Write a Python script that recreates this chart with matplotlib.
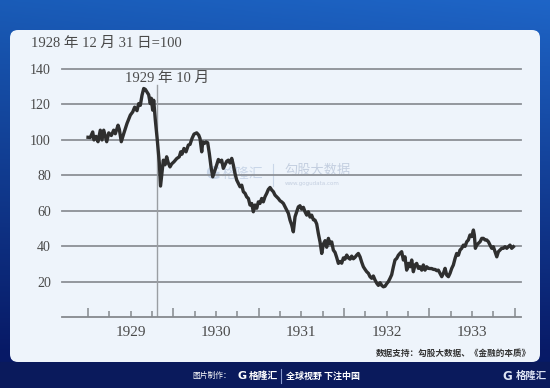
import numpy as np
import matplotlib
matplotlib.use("Agg")
import matplotlib.pyplot as plt
from matplotlib.patches import FancyBboxPatch, Rectangle

plt.rcParams['font.family'] = ['Liberation Serif', 'Noto Sans CJK SC']

# index (1928-12-31 = 100), time as years after 1929-01-01
t_off = [0.000, 0.027, 0.055, 0.070, 0.094, 0.117, 0.144, 0.164, 0.184, 0.203,
         0.219, 0.243, 0.273, 0.301, 0.320, 0.352, 0.367, 0.390, 0.419, 0.457,
         0.496, 0.524, 0.547, 0.574, 0.594, 0.613, 0.633, 0.653, 0.672, 0.692,
         0.711, 0.730, 0.742, 0.758, 0.770, 0.789, 0.812, 0.836, 0.850, 0.868,
         0.883, 0.903, 0.922, 0.941, 0.961, 0.981, 1.008, 1.040, 1.070, 1.087,
         1.102, 1.125, 1.149, 1.176, 1.196, 1.219, 1.243, 1.274, 1.298, 1.313,
         1.333, 1.345, 1.364, 1.383, 1.403, 1.422, 1.442, 1.462, 1.489, 1.509,
         1.528, 1.548, 1.567, 1.586, 1.606, 1.626, 1.645, 1.665, 1.685, 1.704,
         1.723, 1.743, 1.762, 1.782, 1.802, 1.821, 1.841, 1.860, 1.880, 1.899,
         1.919, 1.938, 1.958, 1.978, 1.997, 2.016, 2.036, 2.055, 2.075, 2.095,
         2.114, 2.134, 2.153, 2.173, 2.192, 2.212, 2.231, 2.251, 2.270, 2.290,
         2.310, 2.329, 2.349, 2.368, 2.388, 2.407, 2.427, 2.447, 2.466, 2.485,
         2.505, 2.525, 2.544, 2.564, 2.583, 2.603, 2.622, 2.642, 2.661, 2.681,
         2.700, 2.720, 2.740, 2.759, 2.779, 2.798, 2.818, 2.837, 2.857, 2.876,
         2.896, 2.915, 2.935, 2.954, 2.974, 2.994, 3.013, 3.033, 3.052, 3.072,
         3.091, 3.111, 3.130, 3.150, 3.169, 3.189, 3.209, 3.228, 3.248, 3.267,
         3.287, 3.306, 3.326, 3.345, 3.365, 3.385, 3.404, 3.424, 3.443, 3.463,
         3.482, 3.502, 3.521, 3.541, 3.560, 3.580, 3.599, 3.619, 3.638, 3.658,
         3.677, 3.697, 3.716, 3.736, 3.756, 3.775, 3.795, 3.814, 3.834, 3.853,
         3.873, 3.892, 3.912, 3.931, 3.951, 3.970, 3.990, 4.009, 4.029, 4.049,
         4.068, 4.088, 4.107, 4.127, 4.147, 4.166, 4.186, 4.205, 4.225, 4.244,
         4.264, 4.283, 4.303, 4.322, 4.342, 4.361, 4.381, 4.400, 4.420, 4.440,
         4.459, 4.478, 4.498, 4.518, 4.529, 4.541, 4.557, 4.576, 4.596, 4.616,
         4.635, 4.655, 4.674, 4.694, 4.713, 4.733, 4.752, 4.772, 4.792, 4.811,
         4.830, 4.850, 4.869, 4.889, 4.909, 4.928, 4.947, 4.967, 4.987]
vals = [101.5, 101.4, 104.5, 100.0, 102.0, 99.0, 105.5, 100.0, 105.5, 102.0,
        99.0, 104.0, 102.5, 105.5, 103.5, 108.3, 106.0, 99.0, 103.6, 109.3,
        114.0, 115.8, 118.5, 116.5, 120.5, 119.5, 125.2, 129.0, 128.5, 127.0,
        125.5, 120.5, 123.5, 116.8, 122.4, 111.2, 100.0, 87.0, 74.0, 82.0,
        88.6, 86.0, 90.5, 87.0, 84.8, 86.5, 87.7, 89.5, 90.5, 93.3,
        92.0, 95.2, 93.3, 97.1, 97.5, 100.8, 103.3, 104.0, 102.7, 100.8,
        93.3, 98.9, 98.0, 98.9, 98.4, 92.4, 84.8, 79.2, 83.0, 86.0,
        89.0, 87.7, 88.6, 84.0, 86.0, 88.0, 88.6, 87.0, 89.6, 85.8,
        81.1, 77.4, 75.5, 73.6, 74.5, 70.8, 69.9, 67.9, 67.0, 63.3,
        64.2, 59.5, 63.3, 61.5, 65.1, 64.2, 67.0, 65.1, 68.0, 69.9,
        72.1, 73.2, 71.8, 70.8, 68.9, 67.9, 67.0, 65.7, 65.1, 64.2,
        62.3, 60.5, 58.6, 54.8, 52.0, 48.2, 56.7, 59.5, 62.3, 62.9,
        61.0, 62.0, 59.5, 57.6, 59.5, 56.5, 57.6, 55.0, 54.8, 52.6,
        47.3, 42.5, 36.0, 41.3, 43.2, 39.5, 44.5, 41.5, 42.5, 37.9,
        36.6, 33.8, 30.4, 31.5, 30.5, 33.5, 32.8, 35.1, 33.5, 32.8,
        34.5, 33.0, 33.8, 35.1, 36.0, 34.1, 31.0, 28.5, 27.0, 25.7,
        24.8, 22.9, 22.0, 23.3, 21.0, 19.2, 18.0, 19.5, 18.0, 17.2,
        17.5, 19.0, 20.1, 22.0, 24.0, 28.5, 32.3, 33.2, 35.0, 36.1,
        37.0, 32.3, 34.1, 26.6, 30.4, 28.5, 32.3, 25.7, 29.5, 30.4,
        27.6, 28.5, 26.6, 29.5, 26.6, 28.5, 27.6, 27.5, 27.5, 27.0,
        27.0, 26.3, 26.6, 24.8, 22.9, 24.8, 27.6, 23.8, 22.9, 24.8,
        27.6, 29.5, 33.2, 36.0, 35.0, 37.9, 38.9, 40.7, 40.0, 42.6,
        43.6, 46.4, 45.5, 49.2, 46.4, 38.9, 40.7, 41.7, 42.6, 44.5,
        44.5, 43.6, 43.6, 42.6, 40.7, 38.9, 39.8, 37.0, 34.1, 37.0,
        37.9, 38.9, 38.9, 39.8, 38.9, 39.8, 40.7, 38.9, 39.8]

years = [1929, 1930, 1931, 1932, 1933]
yticks = [20, 40, 60, 80, 100, 120, 140]
crash_x = 1929.812

W, H = 550, 388
fig = plt.figure(figsize=(W / 100, H / 100), dpi=100)

# background: blue gradient, light panel, footer
bg = fig.add_axes([0, 0, 1, 1])
bg.set_xlim(0, W)
bg.set_ylim(H, 0)
bg.axis('off')
gy = np.linspace(0, 1, 200)[:, None]
gx = np.linspace(0, 1, 300)[None, :]
top = np.array([0.10, 0.36, 0.72])
bot = np.array([0.03, 0.10, 0.40])
mix = np.clip(gy * 1.1, 0, 1)[..., None]
img = top * (1 - mix) + bot * mix
img = img + (0.06 * gx * (1 - gy))[..., None] * np.array([0.3, 0.6, 1.0])
bg.imshow(np.clip(img, 0, 1), extent=[0, W, H, 0], aspect='auto', zorder=0)
bg.add_patch(Rectangle((0, 362), W, 26, color='#0a1a5c', zorder=1))
bg.add_patch(FancyBboxPatch((10, 30), 530, 332,
                            boxstyle='round,pad=0,rounding_size=8',
                            fc='#eef4fb', ec='none', zorder=2))

cjk = ['Noto Sans CJK SC', 'DejaVu Sans']
bg.text(531, 353, '数据支持：勾股大数据、《金融的本质》', family=cjk, fontsize=6.2,
        fontweight='bold', color='#333333', ha='right', va='center', zorder=3)
bg.text(231, 376, '图片制作：', family=cjk, fontsize=5.6, color='white',
        ha='right', va='center', zorder=3)
bg.text(237, 376, 'G', family='DejaVu Sans', fontsize=8, fontweight='bold',
        color='white', va='center', zorder=3)
bg.text(249, 376, '格隆汇', family=cjk, fontsize=7, fontweight='bold',
        color='white', va='center', zorder=3)
bg.plot([281, 281], [369, 383], color='#8899cc', lw=0.8, zorder=3)
bg.text(286, 376, '全球视野 下注中国', family=cjk, fontsize=6.5, fontweight='bold',
        color='white', va='center', zorder=3)
bg.text(502, 376, 'G', family='DejaVu Sans', fontsize=8.5, fontweight='bold',
        color='#dde4f4', va='center', zorder=3)
bg.text(516, 376, '格隆汇', family=cjk, fontsize=7.5, fontweight='bold',
        color='#dde4f4', va='center', zorder=3)

# faint watermark
bg.text(205, 174, 'G', family='DejaVu Sans', fontsize=13, fontweight='bold',
        color='#c9d6e8', va='center', zorder=2.5)
bg.text(222, 174, '格隆汇', family=cjk, fontsize=10, color='#c9d6e8',
        va='center', zorder=2.5)
bg.plot([273, 273], [164, 186], color='#c9d6e8', lw=0.8, zorder=2.5)
bg.text(284, 170, '勾股大数据', family=cjk, fontsize=9.5, color='#c4cfe0',
        va='center', zorder=2.5)
bg.text(285, 183, 'www.gogudata.com', family='DejaVu Sans', fontsize=4,
        color='#c4cfe0', va='center', zorder=2.5)

fig.text(31 / W, 1 - 43 / H, '1928 年 12 月 31 日=100', fontsize=10.5,
         color='#4a4a4a', va='center', ha='left')

# main chart
ax = fig.add_axes([62 / W, 1 - 317.3 / H, (521 - 62) / W, (317.3 - 69) / H])
ax.patch.set_alpha(0)
ax.set_xlim(1928.695, 1934.076)
ax.set_ylim(0, 140)
for s in ['top', 'right', 'left']:
    ax.spines[s].set_visible(False)
ax.spines['bottom'].set_color('#85898e')
ax.spines['bottom'].set_linewidth(1.3)

for v in yticks:
    ax.axhline(v, color='#8c9096', lw=1.3, zorder=1, clip_on=False)

ax.set_yticks(yticks)
ax.tick_params(axis='y', length=0, pad=8, labelsize=10, labelcolor='#4a4a4a')

ax.set_xticks(years + [1934])
ax.set_xticks([y + q for y in years for q in (0.25, 0.5, 0.75)], minor=True)
ax.tick_params(axis='x', which='both', direction='in', color='#85898e',
               width=1.1, labelbottom=False)
ax.tick_params(axis='x', which='major', length=6.5)
ax.tick_params(axis='x', which='minor', length=4)
for y in years:
    ax.text(y + 0.5, -8.8, str(y), fontsize=11, color='#4a4a4a',
            ha='center', va='center', clip_on=False)

ax.plot([crash_x, crash_x], [0, 131], color='#9a9ea3', lw=1.0, zorder=2)
ax.text(1929.926, 134.8, '1929 年 10 月', fontsize=10.5, color='#4a4a4a',
        ha='center', va='center')

ax.plot(1929 + np.array(t_off), vals, color='#2f2f2f', lw=2.4,
        solid_joinstyle='round', zorder=3)

fig.savefig('out.png', dpi=100)
